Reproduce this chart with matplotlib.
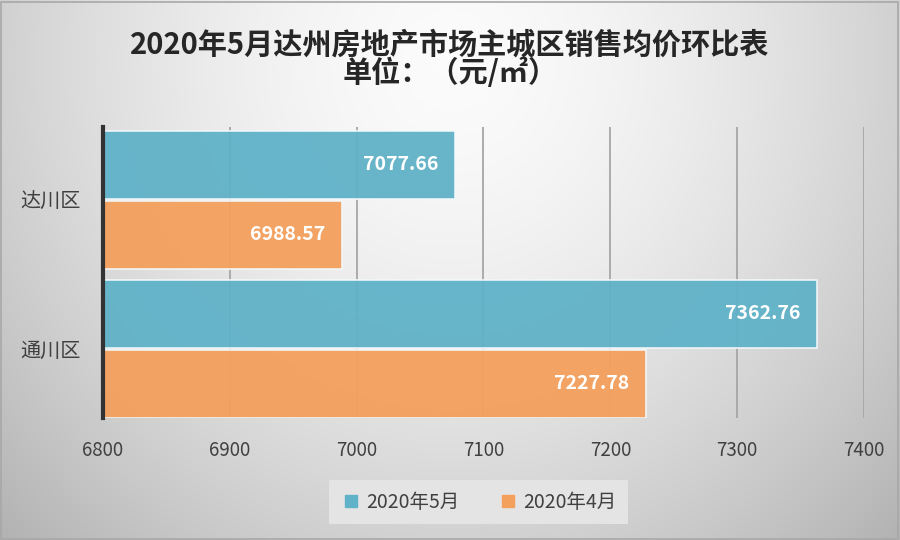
import numpy as np
import matplotlib
matplotlib.use("Agg")
import matplotlib.pyplot as plt
from matplotlib.lines import Line2D

plt.rcParams['font.family'] = ['Noto Sans CJK SC', 'DejaVu Sans']

categories = ['达川区', '通川区']
series_names = ['2020年5月', '2020年4月']
may_values = [7077.66, 7362.76]
apr_values = [6988.57, 7227.78]
xticks = [6800, 6900, 7000, 7100, 7200, 7300, 7400]
title_lines = ['2020年5月达州房地产市场主城区销售均价环比表', '单位：（元/㎡）']

blue = '#60B2C8'
orange = '#F4A05D'

fig = plt.figure(figsize=(9, 5.4), dpi=100)

# background gradient
bg = fig.add_axes([0, 0, 1, 1], zorder=-10)
yy, xx = np.mgrid[0:540, 0:900]
d = np.sqrt(((xx - 450) / 520.0) ** 2 + ((yy - 60) / 560.0) ** 2)
val = 0.985 - 0.21 * np.clip(d, 0, 1.2) ** 1.6
bg.imshow(np.dstack([val, val, val]), aspect='auto', extent=[0, 1, 0, 1], origin='upper')
bg.set_axis_off()
bg.add_patch(plt.Rectangle((0.001, 0.002), 0.997, 0.995, fill=False, edgecolor='#a8a8a8', lw=1.2, transform=bg.transAxes))

ax = fig.add_axes([0.1144, 0.226, 0.8456, 0.539])
ax.patch.set_alpha(0)

ypos = np.arange(len(categories))
h = 0.456
for i, (vals, col, name) in enumerate([(may_values, blue, series_names[0]), (apr_values, orange, series_names[1])]):
    off = -h / 2 - 0.007 if i == 0 else h / 2 + 0.007
    bars = ax.barh(ypos + off, np.array(vals) - 6800, left=6800, height=h, color=col,
                   edgecolor='#f2f8fa', linewidth=1.2, alpha=0.95, zorder=3, label=name)
    for b, v in zip(bars, vals):
        ax.annotate(f'{v:.2f}', xy=(v, b.get_y() + b.get_height() / 2), xytext=(-12, 0),
                    textcoords='offset points', ha='right', va='center', color='white',
                    fontsize=14, fontweight='bold', zorder=5)

ax.set_xlim(6800, 7400)
ax.set_ylim(1.463, -0.49)
ax.set_xticks(xticks)
ax.set_xticklabels([str(t) for t in xticks])
ax.set_yticks(ypos)
ax.set_yticklabels(categories)
ax.tick_params(axis='x', length=0, pad=16, labelsize=13.5, labelcolor='#404040')
ax.tick_params(axis='y', length=0, pad=16, labelsize=14.5, labelcolor='#404040')
for t in xticks[1:]:
    ax.axvline(t, color='#a6a6a6', lw=1.3, zorder=1)
for s in ['top', 'right', 'bottom']:
    ax.spines[s].set_visible(False)
ax.spines['left'].set_color('#333333')
ax.spines['left'].set_linewidth(3)
ax.spines['left'].set_zorder(6)

fig.text(0.5, 0.917, title_lines[0], ha='center', va='center', fontsize=21, fontweight='bold', color='#262626')
fig.text(0.5, 0.866, title_lines[1], ha='center', va='center', fontsize=21, fontweight='bold', color='#262626')

handles = [Line2D([0], [0], marker='s', color='none', markerfacecolor=blue, markeredgecolor=blue, markersize=9),
           Line2D([0], [0], marker='s', color='none', markerfacecolor=orange, markeredgecolor=orange, markersize=9)]
leg = fig.legend(handles, series_names, loc='center', bbox_to_anchor=(0.532, 0.07), ncol=2,
                 frameon=True, fontsize=14, handletextpad=0.3, columnspacing=2.0,
                 borderpad=0.3, handlelength=1.0, borderaxespad=0)
leg.get_frame().set_facecolor('#e4e4e4')
leg.get_frame().set_edgecolor('none')
leg.get_frame().set_alpha(1)
leg.get_frame().set_boxstyle('square')
for t in leg.get_texts():
    t.set_color('#404040')

fig.savefig('out.png', dpi=100)
